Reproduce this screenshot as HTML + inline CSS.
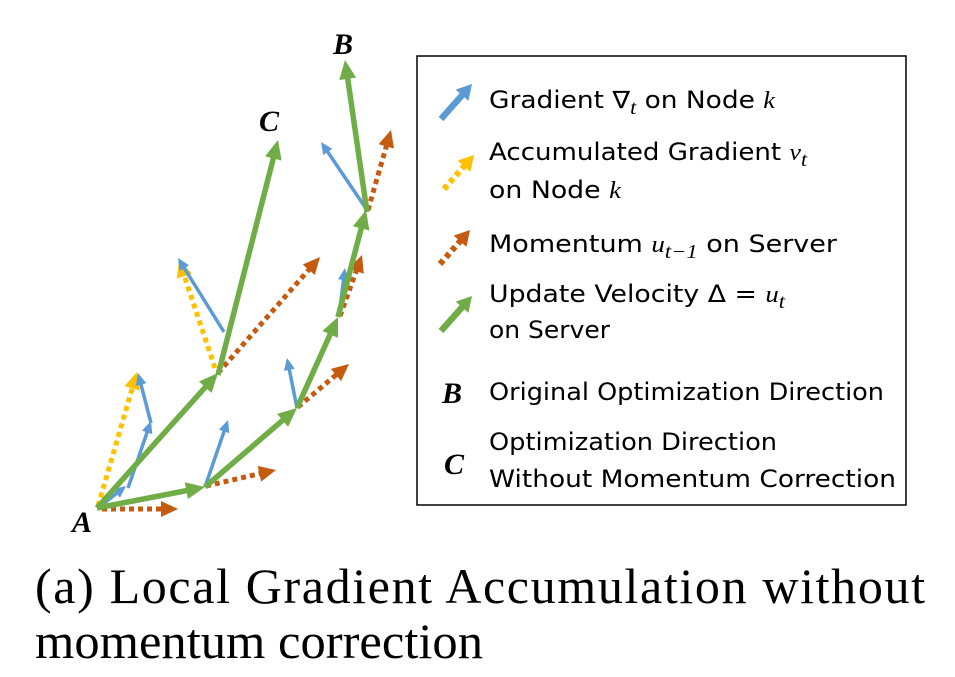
<!DOCTYPE html>
<html><head><meta charset="utf-8"><style>
html,body{margin:0;padding:0;background:#fff;}
svg{display:block;}
.leg{font-family:"DejaVu Sans","Liberation Sans",sans-serif;font-size:24px;fill:#000;}
.lbl{font-family:"Liberation Serif",serif;font-style:italic;font-weight:bold;font-size:30px;fill:#000;}
.cap{font-family:"Liberation Serif",serif;font-size:50px;fill:#000;}
</style></head><body>
<svg id="fig" width="955" height="677" viewBox="0 0 955 677" xmlns="http://www.w3.org/2000/svg">
<g id="arrows"></g>
<text class="lbl" x="72" y="532">A</text>
<text class="lbl" x="333" y="54">B</text>
<text class="lbl" x="259" y="131">C</text>
<rect x="417" y="56" width="489" height="449" fill="none" stroke="#000" stroke-width="1.5"/>
<g>
<text class="leg" x="489" y="108" textLength="286" lengthAdjust="spacingAndGlyphs">Gradient ∇<tspan font-style="italic" font-family="Liberation Serif" font-size="20" dy="6">t</tspan><tspan dy="-6"> on Node </tspan><tspan font-style="italic" font-family="Liberation Serif">k</tspan></text>
<text class="leg" x="489" y="160" textLength="318" lengthAdjust="spacingAndGlyphs">Accumulated Gradient <tspan font-style="italic" font-family="Liberation Serif">v</tspan><tspan font-style="italic" font-family="Liberation Serif" font-size="20" dy="6">t</tspan></text>
<text class="leg" x="489" y="198" textLength="132" lengthAdjust="spacingAndGlyphs">on Node <tspan font-style="italic" font-family="Liberation Serif">k</tspan></text>
<text class="leg" x="489" y="252" textLength="348" lengthAdjust="spacingAndGlyphs">Momentum <tspan font-style="italic" font-family="Liberation Serif">u</tspan><tspan font-style="italic" font-family="Liberation Serif" font-size="20" dy="6">t−1</tspan><tspan dy="-6"> on Server</tspan></text>
<text class="leg" x="489" y="302" textLength="296" lengthAdjust="spacingAndGlyphs">Update Velocity Δ = <tspan font-style="italic" font-family="Liberation Serif">u</tspan><tspan font-style="italic" font-family="Liberation Serif" font-size="20" dy="6">t</tspan></text>
<text class="leg" x="489" y="338" textLength="121" lengthAdjust="spacingAndGlyphs">on Server</text>
<text class="lbl" x="442" y="403">B</text>
<text class="leg" x="489" y="400" textLength="395" lengthAdjust="spacingAndGlyphs">Original Optimization Direction</text>
<text class="lbl" x="444" y="474">C</text>
<text class="leg" x="489" y="450" textLength="288" lengthAdjust="spacingAndGlyphs">Optimization Direction</text>
<text class="leg" x="489" y="487" textLength="407" lengthAdjust="spacingAndGlyphs">Without Momentum Correction</text>
</g>
<text class="cap" x="35" y="603" textLength="890" lengthAdjust="spacing">(a) Local Gradient Accumulation without</text>
<text class="cap" x="35" y="658" textLength="448" lengthAdjust="spacingAndGlyphs">momentum correction</text>
</svg>
<script>
// arrow data: [x1,y1,x2,y2]
const greenArrows=[[97,508,205,487],[205,487,297,408],[297,408,338,317],[338,317,366,210],[367,212,345,60],[97,508,218,373],[218,375,278,140]];
const blueArrows=[[98,508,126,486],[128,488,151,421],[151,423,138,373],[205,487,228,420],[224,332,178,258],[297,408,287,358],[339,316,345,268],[367,210,321,142]];
const yellowArrows=[[98,506,137,372],[215,368,179,260]];
const orangeArrows=[[102,509,178,509],[206,486,276,470],[218,373,320,257],[298,407,349,364],[340,316,362,255],[368,210,391,130]];
const legendGreen=[441,331,472,296];
const legendBlue=[441,119,472,84];
const legendYellow=[444,189,474,155];
const legendOrange=[440,264,470,230];
const NS='http://www.w3.org/2000/svg';
const layer=document.getElementById('arrows');
function drawArrow(a,color,w,dash,hl,hw,name){
  const [x1,y1,x2,y2]=a;
  const dx=x2-x1,dy=y2-y1,L=Math.hypot(dx,dy),ux=dx/L,uy=dy/L;
  const bx=x2-ux*hl,by=y2-uy*hl;
  const g=document.createElementNS(NS,'g');
  
  
  const ln=document.createElementNS(NS,'line');
  ln.setAttribute('x1',x1);ln.setAttribute('y1',y1);ln.setAttribute('x2',bx+ux*2);ln.setAttribute('y2',by+uy*2);
  ln.setAttribute('stroke',color);ln.setAttribute('stroke-width',w);
  if(dash)ln.setAttribute('stroke-dasharray',dash);
  g.appendChild(ln);
  const p=document.createElementNS(NS,'polygon');
  const px=-uy,py=ux;
  p.setAttribute('points',`${x2},${y2} ${bx+px*hw/2},${by+py*hw/2} ${bx-px*hw/2},${by-py*hw/2}`);
  p.setAttribute('fill',color);
  g.appendChild(p);
  layer.appendChild(g);
}
orangeArrows.forEach(a=>drawArrow(a,'#c55a11',5,'5 4',17,16,'momentum-arrow'));
yellowArrows.forEach(a=>drawArrow(a,'#ffc000',5,'5 4',17,16,'accumulated-gradient-arrow'));
blueArrows.forEach(a=>drawArrow(a,'#5b9bd5',3.5,null,12,11,'gradient-arrow'));
greenArrows.forEach(a=>drawArrow(a,'#70ad47',5.5,null,19,17,'update-velocity-arrow'));
drawArrow(legendBlue,'#5b9bd5',6.5,null,15,17,'legend-gradient-icon');
drawArrow(legendYellow,'#ffc000',6,'5 4',15,17,'legend-accumulated-icon');
drawArrow(legendOrange,'#c55a11',6,'5 4',15,17,'legend-momentum-icon');
drawArrow(legendGreen,'#70ad47',6.5,null,15,17,'legend-update-icon');
</script>
</body></html>
